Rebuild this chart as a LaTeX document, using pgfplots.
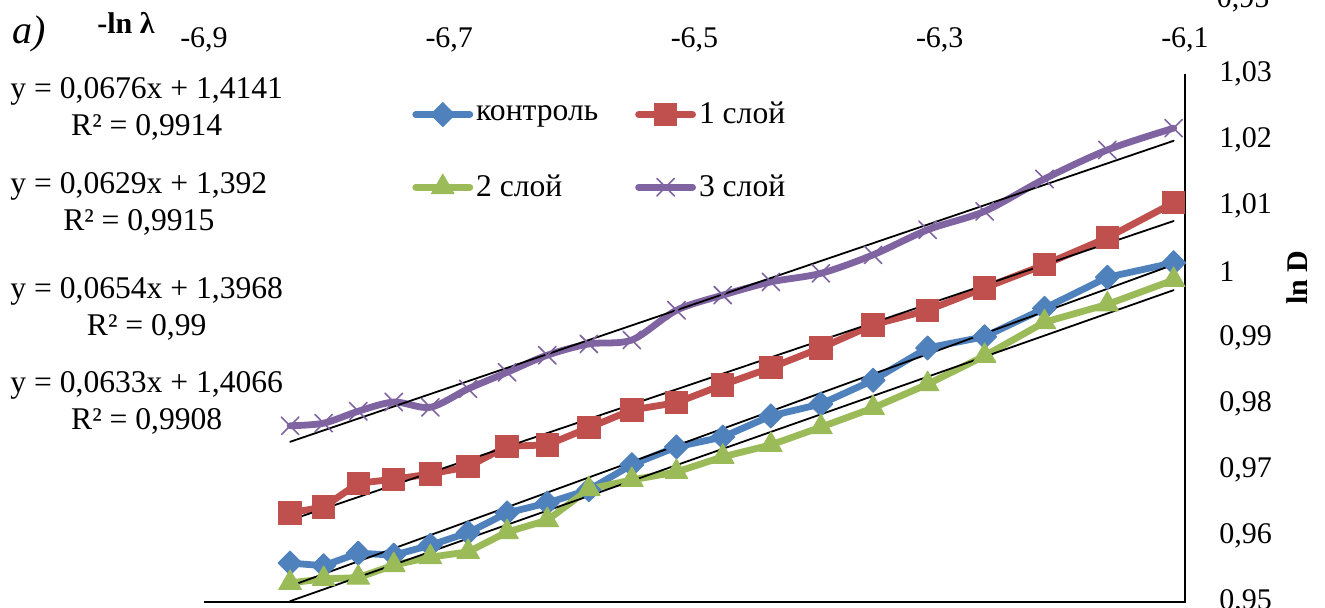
\documentclass[border=0pt]{standalone}
\usepackage{fontspec}
\setmainfont{Liberation Serif}
\usepackage{pgfplots}
\usepackage{pgfplotstable}
\pgfplotsset{compat=1.18}

\definecolor{cblue}{HTML}{4F81BD}
\definecolor{cred}{HTML}{C0504D}
\definecolor{cgreen}{HTML}{9BBB59}
\definecolor{cpurple}{HTML}{8064A2}

% x = -ln(lambda), lambda = 925 ... 450 nm in steps of 25 nm; y = ln D
\pgfplotstableread{
x          ctrl    one     two     three
-6.829794  0.9559  0.9635  0.9529  0.9767
-6.802395  0.9555  0.9644  0.9535  0.9771
-6.774224  0.9574  0.9680  0.9537  0.9789
-6.745236  0.9571  0.9686  0.9556  0.9803
-6.715383  0.9586  0.9694  0.9568  0.9795
-6.684612  0.9605  0.9705  0.9576  0.9823
-6.652863  0.9635  0.9736  0.9606  0.9848
-6.620073  0.9650  0.9738  0.9624  0.9874
-6.586172  0.9670  0.9764  0.9671  0.9891
-6.551080  0.9708  0.9791  0.9685  0.9897
-6.514713  0.9735  0.9802  0.9697  0.9942
-6.476972  0.9750  0.9829  0.9720  0.9965
-6.437752  0.9782  0.9855  0.9738  0.9985
-6.396930  0.9800  0.9885  0.9765  0.9998
-6.354370  0.9836  0.9920  0.9794  1.0026
-6.309918  0.9885  0.9942  0.9830  1.0064
-6.263398  0.9902  0.9976  0.9873  1.0092
-6.214608  0.9945  1.0011  0.9924  1.0141
-6.163315  0.9992  1.0052  0.9951  1.0185
-6.109248  1.0014  1.0105  0.9988  1.0218
}\datatable

\newcommand{\lblfont}{\fontsize{15}{18.5}\selectfont}
\newcommand{\eqfont}{\fontsize{15.8}{18.5}\selectfont}

\begin{document}
\begin{tikzpicture}
\begin{axis}[
  at={(102pt,2.5pt)}, anchor=south west,
  scale only axis, width=490.5pt, height=264pt,
  xmin=-6.9, xmax=-6.1, ymin=0.95, ymax=1.03,
  clip=false,
  axis line style={draw=none},
  major tick length=0pt,
  xtick={-6.9,-6.7,-6.5,-6.3,-6.1},
  xticklabels={{-6,9},{-6,7},{-6,5},{-6,3},{-6,1}},
  ytick={0.95,0.96,0.97,0.98,0.99,1.00,1.01,1.02,1.03},
  yticklabels={{0,95},{0,96},{0,97},{0,98},{0,99},{1},{1,01},{1,02},{1,03}},
  xticklabel pos=upper, yticklabel pos=upper,
  tick label style={font=\lblfont, inner sep=0pt},
  xticklabel style={anchor=base, yshift=13.5pt},
  yticklabel style={anchor=west, xshift=17pt},
  every axis plot/.append style={line width=3.4pt, line cap=round, line join=round},
  legend image code/.code={\draw[mark repeat=2,mark phase=2,#1] plot coordinates {(0pt,0pt) (13.5pt,0pt) (27pt,0pt)};},
  legend columns=2,
  legend cell align=left,
  legend style={draw=none, fill=none, at={(0.212,0.953)}, anchor=north west,
    font=\eqfont, inner sep=0pt, row sep=21pt,
    nodes={inner sep=1.5pt},
    /tikz/every even column/.append style={column sep=17pt}},
]
\addplot[color=cblue, mark=diamond*, mark size=6pt,
  mark options={solid, fill=cblue, draw=cblue, line width=0.5pt, xscale=1.33}]
  table[x=x, y=ctrl] {\datatable};
\addlegendentry{контроль}
\addplot[color=cred, mark=square*, mark size=5.6pt,
  mark options={solid, fill=cred, draw=cred, line width=0.5pt}]
  table[x=x, y=one] {\datatable};
\addlegendentry{1 слой}
\addplot[color=cgreen, mark=triangle*, mark size=6.5pt,
  mark options={solid, fill=cgreen, draw=cgreen, line width=0.5pt}]
  table[x=x, y=two] {\datatable};
\addlegendentry{2 слой}
\addplot[color=cpurple, smooth, mark=x, mark size=6.2pt,
  mark options={solid, draw=cpurple, line width=0.8pt}]
  table[x=x, y=three] {\datatable};
\addlegendentry{3 слой}

% linear trend lines, end points from the fitted equations
\addplot[black, line width=0.9pt, no marks, forget plot] coordinates {(-6.829794,0.952406) (-6.109248,1.001115)};
\addplot[black, line width=0.9pt, no marks, forget plot] coordinates {(-6.829794,0.962406) (-6.109248,1.007728)};
\addplot[black, line width=0.9pt, no marks, forget plot] coordinates {(-6.829794,0.950131) (-6.109248,0.997255)};
\addplot[black, line width=0.9pt, no marks, forget plot] coordinates {(-6.829794,0.974274) (-6.109248,1.019885)};

% axis lines: bottom and right
\draw[black, line width=0.75pt] (rel axis cs:0,0) -- (rel axis cs:1,0) -- (rel axis cs:1,1);
\end{axis}

% labels
\node[anchor=base west, inner sep=0pt, font=\fontsize{20}{24}\selectfont\itshape] at (6pt,282pt) {a)};
\node[anchor=base west, inner sep=0pt, font=\fontsize{15}{18}\selectfont\bfseries] at (48.5pt,287pt) {-ln λ};
\node[anchor=base, rotate=90, inner sep=0pt, font=\fontsize{15}{18}\selectfont\bfseries] at (653.5pt,164.75pt) {ln D};
\node[anchor=base, inner sep=0pt, font=\lblfont] at (621.5pt,300pt) {0,95};

% trend line equations
\node[anchor=west, align=center, inner sep=0pt, font=\eqfont] at (5pt,249.25pt) {y = 0,0676x + 1,4141\\R² = 0,9914};
\node[anchor=west, align=center, inner sep=0pt, font=\eqfont] at (5pt,201.5pt) {y = 0,0629x + 1,392\\R² = 0,9915};
\node[anchor=west, align=center, inner sep=0pt, font=\eqfont] at (5pt,149.25pt) {y = 0,0654x + 1,3968\\R² = 0,99};
\node[anchor=west, align=center, inner sep=0pt, font=\eqfont] at (5pt,102.25pt) {y = 0,0633x + 1,4066\\R² = 0,9908};

\pgfresetboundingbox
\useasboundingbox (0pt,0pt) rectangle (662.5pt,303.5pt);
\end{tikzpicture}
\end{document}
